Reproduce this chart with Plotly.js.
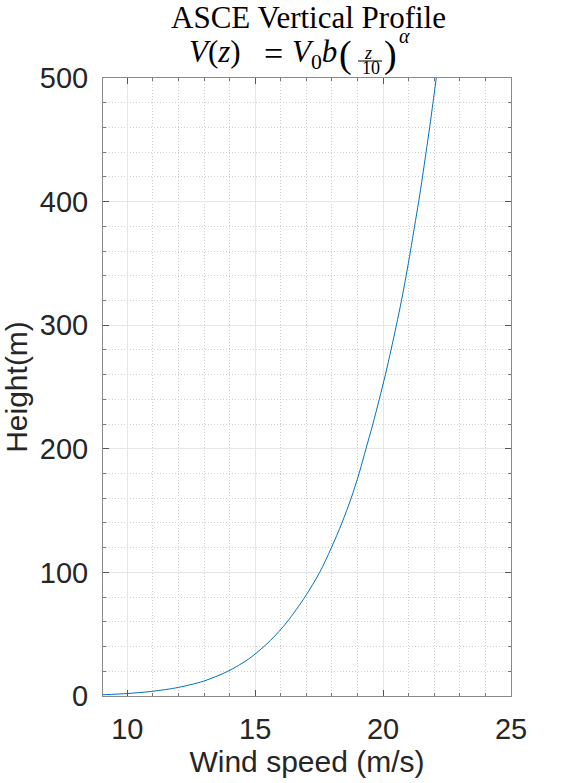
<!DOCTYPE html>
<html>
<head>
<meta charset="utf-8">
<script src="https://cdn.plot.ly/plotly-3.0.1.min.js"></script>
<style>
  html, body { margin: 0; padding: 0; background: #fff; }
  #chart { width: 565px; height: 783px; }
</style>
</head>
<body>
<div id="chart"></div>
<script>
// Values
const heights = [1, 2, 3.5, 6.5, 12, 20, 30, 45, 60, 80, 100, 120, 140, 160, 180, 200, 220, 240, 260, 280, 300, 320, 340, 360, 380, 400, 420, 440, 460, 480, 500];
const speeds  = [9.05, 10.0, 10.85, 11.88, 12.98, 13.93, 14.75, 15.6, 16.25, 16.94, 17.52, 17.98, 18.39, 18.75, 19.06, 19.33, 19.6, 19.85, 20.09, 20.31, 20.52, 20.72, 20.9, 21.07, 21.23, 21.39, 21.54, 21.68, 21.82, 21.95, 22.08];
const xTickVals = [10, 15, 20, 25];
const yTickVals = [0, 100, 200, 300, 400, 500];
const titleText = 'ASCE Vertical Profile';
const xTitle = 'Wind speed (m/s)';
const yTitle = 'Height(m)';

// plot area geometry in pixels
const L = 103, R = 511, T = 78, B = 696;
const px = x => (x - L) / (R - L);
const py = y => (B - y) / (B - T);

const serif = 'Liberation Serif, Times New Roman, serif';
function ann(text, x, y, size) {
  return {
    text: text, xref: 'paper', yref: 'paper', x: px(x), y: py(y),
    xanchor: 'center', yanchor: 'middle', showarrow: false,
    font: {family: serif, size: size, color: '#000'}, borderpad: 0
  };
}

const dx = -4;
const annotations = [
  ann(titleText, 308, 17.5, 31),
  ann('<i>V</i>(<i>z</i>)', 217 + dx + 2, 51.5, 31),
  ann('=', 277 + dx, 53, 34),
  ann('<i>V</i><sub>0</sub><i>b</i>', 318 + dx, 53.5, 31),
  ann('(', 349 + dx, 55, 38),
  ann('<i>z</i>', 372 + dx, 53, 18),
  ann('10', 375 + dx, 68, 18),
  ann(')', 394 + dx, 55, 38),
  ann('<i>α</i>', 408 + dx, 35.5, 20)
];

const shapes = [{
  type: 'line', xref: 'paper', yref: 'paper',
  x0: px(362 + dx), x1: px(386 + dx), y0: py(61), y1: py(61),
  line: {color: '#000', width: 1}
}];

const trace = {
  x: speeds, y: heights, type: 'scatter', mode: 'lines',
  line: {color: '#0072BD', width: 1, shape: 'spline', smoothing: 0.8},
  hoverinfo: 'skip'
};

const sans = 'Liberation Sans, Arial, Helvetica, sans-serif';
const layout = {
  width: 565, height: 783,
  margin: {l: L, r: 565 - R, t: T, b: 783 - B, pad: 0},
  paper_bgcolor: '#fff', plot_bgcolor: '#fff',
  showlegend: false,
  font: {family: sans, color: '#262626'},
  xaxis: {
    range: [9.05, 25], tickvals: xTickVals, ticktext: xTickVals.map(String),
    ticks: 'inside', ticklen: 6, tickcolor: '#555', tickwidth: 1,
    showline: true, linecolor: '#8a8a8a', linewidth: 1, mirror: 'allticks',
    showgrid: true, gridcolor: '#e6e6e6', gridwidth: 1,
    zeroline: false,
    tickfont: {family: sans, size: 29, color: '#262626'},
    ticklabelstandoff: 7,
    minor: {dtick: 1, ticks: 'inside', ticklen: 3, tickcolor: '#777',
            showgrid: true, gridcolor: '#cfcfcf', griddash: '1px,2px', gridwidth: 1},
    title: {text: xTitle, font: {family: sans, size: 30, color: '#262626'}, standoff: 6}
  },
  yaxis: {
    range: [0, 500], tickvals: yTickVals, ticktext: yTickVals.map(String),
    ticks: 'inside', ticklen: 6, tickcolor: '#555', tickwidth: 1,
    showline: true, linecolor: '#8a8a8a', linewidth: 1, mirror: 'allticks',
    showgrid: true, gridcolor: '#e6e6e6', gridwidth: 1,
    zeroline: false,
    tickfont: {family: sans, size: 29, color: '#262626'},
    ticklabelstandoff: 8,
    minor: {dtick: 20, ticks: 'inside', ticklen: 3, tickcolor: '#777',
            showgrid: true, gridcolor: '#cfcfcf', griddash: '1px,2px', gridwidth: 1},
    title: {text: yTitle, font: {family: sans, size: 30, color: '#262626'}, standoff: 8}
  },
  annotations: annotations,
  shapes: shapes
};

Plotly.newPlot('chart', [trace], layout, {staticPlot: true, displayModeBar: false});
</script>
</body>
</html>
